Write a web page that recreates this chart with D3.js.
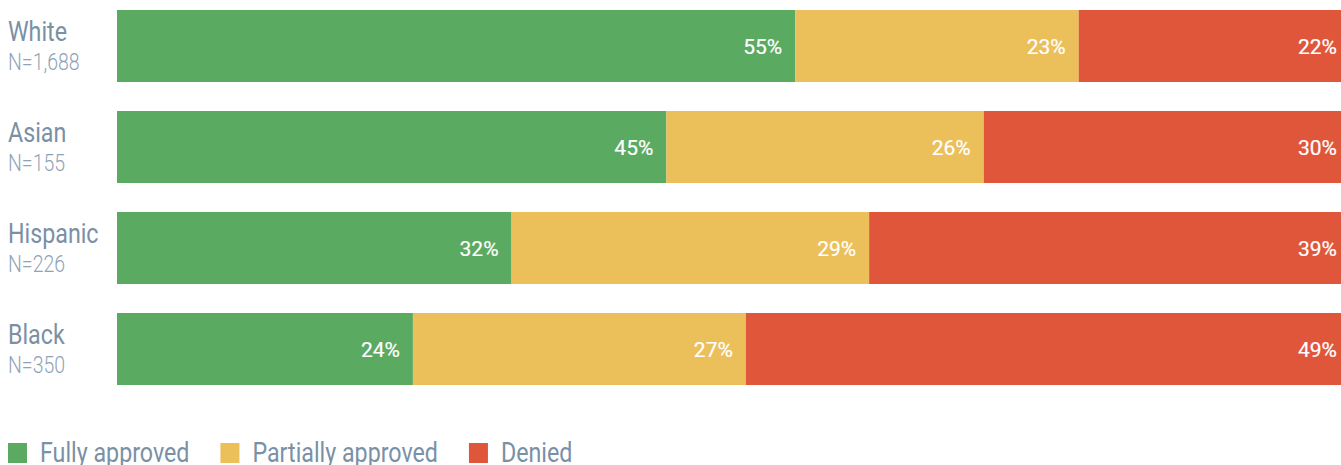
<!DOCTYPE html>
<html>
<head>
<meta charset="utf-8">
<script src="https://cdn.jsdelivr.net/npm/d3@7"></script>
<style>
  html, body { margin: 0; padding: 0; background: #fff; overflow: hidden; }
  svg { display: block; }
  text { font-family: Roboto, "Noto Sans", sans-serif; }
</style>
</head>
<body>
<svg id="chart" width="1341" height="465"></svg>
<script>
// Groups, sample sizes and outcome shares (percent)
const groups = ["White", "Asian", "Hispanic", "Black"];
const sampleSizes = ["N=1,688", "N=155", "N=226", "N=350"];
const outcomes = ["Fully approved", "Partially approved", "Denied"];
const fullyApproved = [55, 45, 32, 24];
const partiallyApproved = [23, 26, 29, 27];
const denied = [22, 30, 39, 49];

const colors = ["#5BAA62", "#EBBF5A", "#E0563B"];
const labelColor = "#7A90A5";
const subLabelColor = "#8FA3B6";
const condense = 0.83; // horizontal squeeze for a condensed look

const svg = d3.select("#chart");
const barLeft = 117, barRight = 1350;

const rows = groups.map((g, i) => ({
  group: g,
  n: sampleSizes[i],
  values: [fullyApproved[i], partiallyApproved[i], denied[i]]
}));

// one band per group: bar height 72, step 101
const y = d3.scaleBand()
  .domain(groups)
  .range([10, 385])
  .paddingInner(29 / 101)
  .paddingOuter(0);

const colorScale = d3.scaleOrdinal().domain(outcomes).range(colors);

rows.forEach(row => {
  const total = d3.sum(row.values);
  const x = d3.scaleLinear().domain([0, total]).range([barLeft, barRight]);
  let acc = 0;
  const segs = row.values.map((v, k) => {
    const s = { key: outcomes[k], v, start: acc, end: acc + v };
    acc += v;
    return s;
  });
  const g = svg.append("g").attr("class", "row");
  const top = y(row.group);
  const bandH = y.bandwidth();

  g.selectAll("rect")
    .data(segs)
    .join("rect")
    .attr("x", d => x(d.start))
    .attr("y", top)
    .attr("width", d => x(d.end) - x(d.start))
    .attr("height", bandH)
    .attr("fill", d => colorScale(d.key));

  g.selectAll("text.val")
    .data(segs)
    .join("text")
    .attr("class", "val")
    .attr("x", d => x(d.end) - 13)
    .attr("y", top + bandH / 2 + 8)
    .attr("text-anchor", "end")
    .attr("fill", "#fff")
    .attr("stroke", "#fff")
    .attr("stroke-width", 0.2)
    .attr("font-size", 21)
    .attr("font-weight", 400)
    .text(d => d.v + "%");

  g.append("text")
    .attr("transform", `translate(8,${top + 31}) scale(${condense},1)`)
    .attr("fill", labelColor)
    .attr("font-size", 28)
    .text(row.group);

  g.append("text")
    .attr("transform", `translate(8,${top + 60}) scale(${condense},1)`)
    .attr("fill", subLabelColor)
    .attr("font-size", 23.5)
    .attr("font-weight", 300)
    .text(row.n);
});

// Legend
const legend = svg.append("g").attr("class", "legend");
let lx = 8;
outcomes.forEach(o => {
  legend.append("rect")
    .attr("x", lx)
    .attr("y", 443)
    .attr("width", 19)
    .attr("height", 20)
    .attr("fill", colorScale(o));
  const t = legend.append("text")
    .attr("transform", `translate(${lx + 32},462) scale(${condense},1)`)
    .attr("fill", labelColor)
    .attr("font-size", 28)
    .text(o);
  const w = t.node().getComputedTextLength() * condense;
  lx = lx + 32 + w + 31;
});
</script>
</body>
</html>
